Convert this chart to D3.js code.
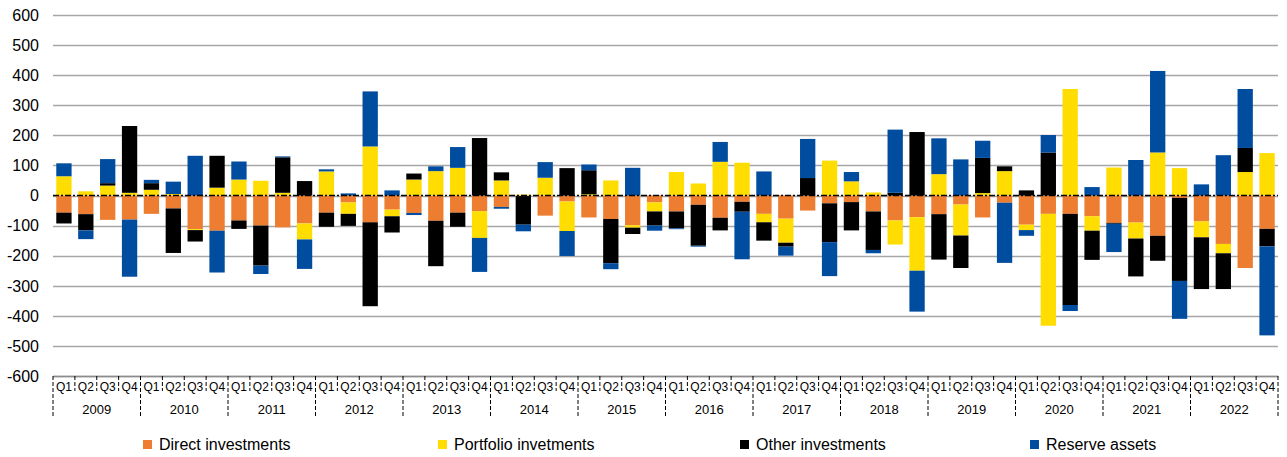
<!DOCTYPE html>
<html lang="en">
<head>
<meta charset="UTF-8">
<title>Financial account components</title>
<script src="https://d3js.org/d3.v7.min.js"></script>
<style>
  body { margin: 0; background: #fff; }
  text { font-family: "Liberation Sans", Arial, sans-serif; fill: #000; }
</style>
</head>
<body>
<svg id="chart" width="1287" height="457"></svg>
<script>
const years = ["2009","2010","2011","2012","2013","2014","2015","2016","2017","2018","2019","2020","2021","2022"];
const quarters = ["Q1","Q2","Q3","Q4"];
const yTicks = [-600,-500,-400,-300,-200,-100,0,100,200,300,400,500,600];

const direct = [-57,-62,-81,-80, -61,-43,-112,-117, -83,-100,-106,-93, -57,-23,-89,-47, -58,-84,-57,-52,
  -38,-2,-67,-20, -73,-78,-99,-23, -53,-31,-74,-21, -61,-77,-50,-26, -22,-53,-83,-72, -62,-30,-73,-24,
  -97,-61,-61,-69, -91,-90,-134,-8, -86,-161,-241,-111];
const portfolio = [64,14,33,9, 19,5,-3,26, 53,49,9,-53, 80,-38,163,-22, 53,81,92,-89,
  50,3,59,-98, 4,50,-8,-30, 78,40,112,109, -28,-80,0,116, 47,10,-80,-178, 71,-103,8,81,
  -18,-372,354,-48, 93,-53,143,91, -53,-31,78,141];
const other = [-36,-54,8,222, 22,-148,-38,106, -28,-133,118,48, -47,-40,-279,-54, 20,-151,-47,191,
  27,-95,0,91, 80,-147,-21,-47, -56,-136,-42,-33, -61,-13,58,-129, -94,-128,9,211, -151,-108,117,16,
  17,143,-303,-97, -3,-126,-83,-276, -172,-119,80,-58];
const reserve = [43,-29,80,-190, 11,41,132,-139, 60,-28,3,-98, 7,7,183,17, -7,16,69,-113,
  -6,-22,52,-83, 19,-20,92,-17, -3,-3,66,-158, 80,-30,130,-113, 31,-11,210,-136, 119,120,57,-200,
  -19,58,-20,28, -94,118,271,-126, 37,134,196,-296];

const seriesNames = ["Direct investments", "Portfolio invetments", "Other investments", "Reserve assets"];
const seriesKeys = ["direct", "portfolio", "other", "reserve"];
const colors = ["#ED7D31", "#FFDD00", "#000000", "#004C9F"];

// build table for d3.stack
const periods = [];
years.forEach(yr => quarters.forEach(q => periods.push(yr + " " + q)));
const table = periods.map((p, i) => ({
  period: p,
  direct: direct[i],
  portfolio: portfolio[i],
  other: other[i],
  reserve: reserve[i]
}));

const svg = d3.select("#chart");
const plotLeft = 53, plotRight = 1278, plotTop = 15, plotBottom = 376;

const x = d3.scaleBand()
  .domain(periods)
  .range([plotLeft, plotRight])
  .paddingInner(0.3)
  .paddingOuter(0.15);

const y = d3.scaleLinear().domain([-600, 600]).range([plotBottom, plotTop]);

// gridlines
svg.append("g").selectAll("line")
  .data(yTicks)
  .enter().append("line")
  .attr("x1", plotLeft).attr("x2", plotRight)
  .attr("y1", d => Math.round(y(d)) + 0.5).attr("y2", d => Math.round(y(d)) + 0.5)
  .attr("stroke", "#A6A6A6")
  .attr("stroke-width", 1.3);

// y tick labels
svg.append("g").selectAll("text")
  .data(yTicks)
  .enter().append("text")
  .attr("x", 39)
  .attr("y", d => y(d))
  .attr("dy", "0.36em")
  .attr("text-anchor", "end")
  .style("font-size", "16px")
  .text(d => d);

// stacked bars
const stack = d3.stack().keys(seriesKeys).offset(d3.stackOffsetDiverging);
const stacked = stack(table);

svg.append("g").selectAll("g")
  .data(stacked)
  .enter().append("g")
  .attr("fill", (d, i) => colors[i])
  .selectAll("rect")
  .data(d => d)
  .enter().append("rect")
  .attr("x", d => x(d.data.period))
  .attr("width", x.bandwidth())
  .attr("y", d => y(Math.max(d[0], d[1])))
  .attr("height", d => Math.abs(y(d[0]) - y(d[1])));

// zero line, dash-dot
svg.append("line")
  .attr("x1", plotLeft).attr("x2", plotRight)
  .attr("y1", y(0)).attr("y2", y(0))
  .attr("stroke", "#000")
  .attr("stroke-width", 1.5)
  .attr("stroke-dasharray", "6,2,2,2");

// category axis
const step = x.step();
const half = step * x.paddingInner() / 2;
const bounds = periods.map(p => x(p) - half).concat([x(periods[periods.length - 1]) + x.bandwidth() + half]);

svg.append("line")
  .attr("x1", plotLeft).attr("x2", plotRight)
  .attr("y1", plotBottom + 0.5).attr("y2", plotBottom + 0.5)
  .attr("stroke", "#8C8C8C")
  .attr("stroke-width", 1.3);

svg.append("g").selectAll("line")
  .data(bounds)
  .enter().append("line")
  .attr("x1", d => d).attr("x2", d => d)
  .attr("y1", plotBottom)
  .attr("y2", (d, i) => i % 4 === 0 ? 417 : 391)
  .attr("stroke", "#000")
  .attr("stroke-width", 1)
  .attr("stroke-dasharray", "4,2");

svg.append("g").selectAll("text")
  .data(periods)
  .enter().append("text")
  .attr("x", d => x(d) + x.bandwidth() / 2)
  .attr("y", 391)
  .attr("text-anchor", "middle")
  .style("font-size", "12px")
  .text(d => d.split(" ")[1]);

svg.append("g").selectAll("text")
  .data(years)
  .enter().append("text")
  .attr("x", (d, i) => (bounds[i * 4] + bounds[i * 4 + 4]) / 2)
  .attr("y", 414)
  .attr("text-anchor", "middle")
  .style("font-size", "13px")
  .text(d => d);

// legend
const legendX = [143, 438, 740, 1030];
const legend = svg.append("g");
legend.selectAll("rect")
  .data(seriesNames)
  .enter().append("rect")
  .attr("x", (d, i) => legendX[i])
  .attr("y", 440)
  .attr("width", 9)
  .attr("height", 9)
  .attr("fill", (d, i) => colors[i]);

legend.selectAll("text")
  .data(seriesNames)
  .enter().append("text")
  .attr("x", (d, i) => legendX[i] + 16)
  .attr("y", 444.5)
  .attr("dy", "0.36em")
  .style("font-size", "16px")
  .text(d => d);
</script>
</body>
</html>
